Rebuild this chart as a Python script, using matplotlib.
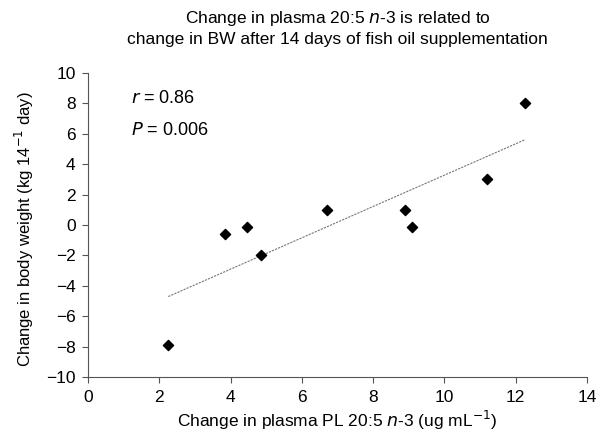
import matplotlib

matplotlib.use("Agg")

import matplotlib.pyplot as plt
import numpy as np

plt.rcParams["font.family"] = ["Liberation Sans", "DejaVu Sans"]

# data
change_epa = [2.25, 3.85, 4.45, 4.85, 6.7, 8.9, 9.1, 11.2, 12.25]
change_bw = [-7.9, -0.6, -0.1, -2.0, 1.0, 1.0, -0.1, 3.0, 8.0]
x_ticks = [0, 2, 4, 6, 8, 10, 12, 14]
y_ticks = [-10, -8, -6, -4, -2, 0, 2, 4, 6, 8, 10]

fig = plt.figure(figsize=(5.99, 4.37), dpi=100)
ax = fig.add_axes([0.147, 0.137, 0.833, 0.696])

ax.scatter(change_epa, change_bw, marker="D", s=27, color="black", zorder=3)

# least-squares trend line over the data range
slope, intercept = np.polyfit(change_epa, change_bw, 1)
xs = np.array([min(change_epa), max(change_epa)])
ax.plot(xs, slope * xs + intercept, color="#777777", linewidth=0.8,
        linestyle=(0, (2, 1)))

ax.set_xlim(0, 14)
ax.set_ylim(-10, 10)
ax.set_xticks(x_ticks)
ax.set_yticks(y_ticks)
ax.set_yticklabels([f"{v}".replace("-", "\u2212") for v in y_ticks])

for side in ["top", "right"]:
    ax.spines[side].set_visible(False)
for side in ["left", "bottom"]:
    ax.spines[side].set_color("#555555")
    ax.spines[side].set_linewidth(0.8)
ax.tick_params(colors="#555555", labelcolor="black", labelsize=12.5,
               length=4, width=0.8, pad=5)

ax.text(1.2, 8.0, r"$\it{r}$ = 0.86", fontsize=13)
ax.text(1.2, 5.9, r"$\it{P}$ = 0.006", fontsize=13)

ax.set_xlabel(r"Change in plasma PL 20:5 $\it{n}$-3 (ug mL$^{-1}$)",
              fontsize=12.5, labelpad=3)
ax.set_ylabel(r"Change in body weight (kg 14$^{-1}$ day)", fontsize=12)
ax.yaxis.set_label_coords(-0.105, 0.485)
ax.set_title("Change in plasma 20:5 $\\it{n}$-3 is related to\n"
             "change in BW after 14 days of fish oil supplementation",
             fontsize=12.5, pad=21, linespacing=1.3)

fig.savefig("out.png", dpi=100)
plt.close(fig)
